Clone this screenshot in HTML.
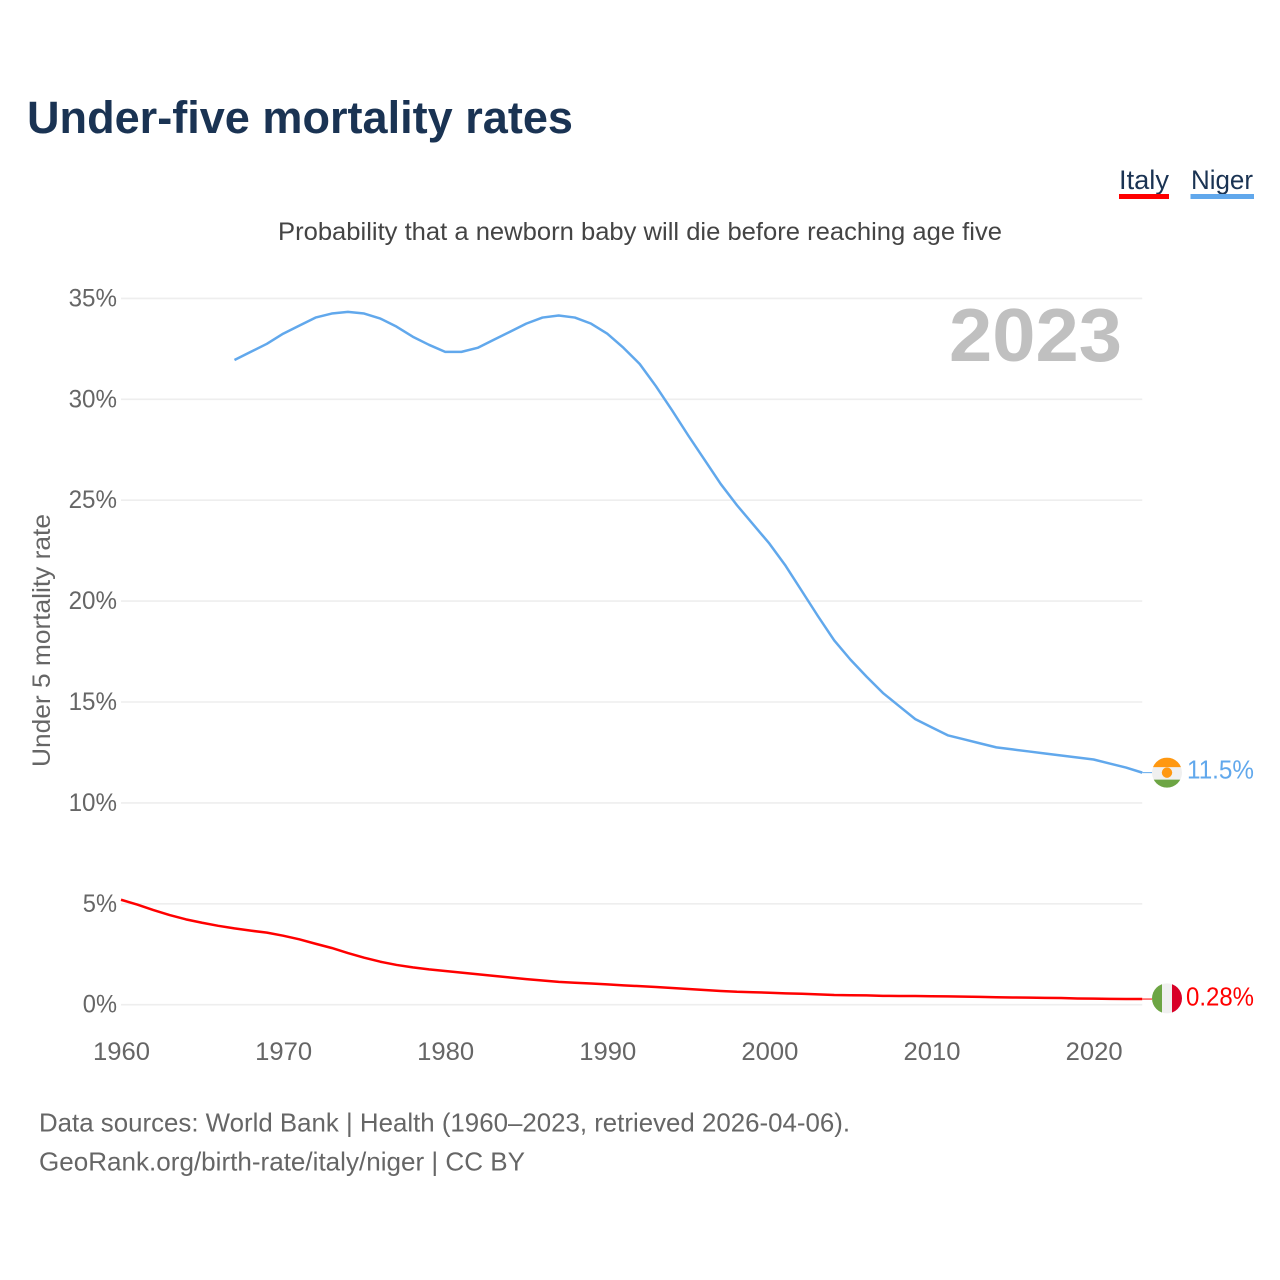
<!DOCTYPE html>
<html lang="en">
<head>
<meta charset="utf-8">
<title>Under-five mortality rates</title>
<style>
html,body{margin:0;padding:0;background:#fff;width:1280px;height:1280px;overflow:hidden}
svg{display:block}
text{font-family:"Liberation Sans",sans-serif}
</style>
</head>
<body>
<svg id="chart" xmlns="http://www.w3.org/2000/svg" width="1280" height="1280" viewBox="0 0 1280 1280">
  <text x="27" y="133" font-size="45" font-weight="700" fill="#1a3353" textLength="546" lengthAdjust="spacingAndGlyphs">Under-five mortality rates</text>
  <g>
    <g>
      <text x="1119" y="189" font-size="27" fill="#1a3353" textLength="50" lengthAdjust="spacingAndGlyphs">Italy</text>
      <rect x="1119" y="194" width="50" height="5" fill="#ff0000"/>
    </g>
    <g>
      <text x="1191" y="189" font-size="27" fill="#1a3353" textLength="62" lengthAdjust="spacingAndGlyphs">Niger</text>
      <rect x="1190.5" y="194" width="63.5" height="5" fill="#61a8ec"/>
    </g>
  </g>
  <text x="278" y="240" font-size="25" fill="#444444" textLength="724" lengthAdjust="spacingAndGlyphs">Probability that a newborn baby will die before reaching age five</text>
  <g id="grid"></g>
  <g id="yticks"></g>
  <g id="xticks"></g>
  <text transform="translate(50,767) rotate(-90)" x="0" y="0" font-size="25" fill="#666666" textLength="253" lengthAdjust="spacingAndGlyphs">Under 5 mortality rate</text>
  <text x="949" y="361" font-size="75" font-weight="700" fill="#c0c0c0" textLength="173" lengthAdjust="spacingAndGlyphs">2023</text>
  <g id="series"></g>
  <g id="ends"></g>
  <text x="39" y="1131.5" font-size="26" fill="#666666" textLength="811" lengthAdjust="spacingAndGlyphs">Data sources: World Bank | Health (1960–2023, retrieved 2026-04-06).</text>
  <text x="39" y="1170.5" font-size="26" fill="#666666" textLength="486" lengthAdjust="spacingAndGlyphs">GeoRank.org/birth-rate/italy/niger | CC BY</text>
</svg>
<script>
const NS = 'http://www.w3.org/2000/svg';
const yTickValues = [0, 5, 10, 15, 20, 25, 30, 35];
const xTickYears = [1960, 1970, 1980, 1990, 2000, 2010, 2020];
const italyStartYear = 1960;
const italyValues = [5.2,4.96,4.69,4.44,4.23,4.06,3.91,3.78,3.67,3.57,3.42,3.24,3.02,2.81,2.56,2.33,2.13,1.97,1.85,1.75,1.67,1.59,1.51,1.43,1.35,1.27,1.2,1.13,1.09,1.05,1.01,0.96,0.92,0.88,0.83,0.78,0.73,0.68,0.64,0.62,0.59,0.56,0.54,0.51,0.48,0.47,0.46,0.44,0.43,0.43,0.42,0.41,0.4,0.39,0.37,0.36,0.35,0.34,0.33,0.31,0.3,0.29,0.28,0.28];
const nigerStartYear = 1967;
const nigerValues = [31.95,32.35,32.75,33.25,33.65,34.05,34.25,34.33,34.25,34.0,33.6,33.1,32.7,32.35,32.35,32.55,32.95,33.35,33.75,34.05,34.15,34.05,33.75,33.25,32.55,31.75,30.65,29.45,28.2,27.0,25.8,24.75,23.8,22.85,21.75,20.5,19.25,18.05,17.1,16.25,15.45,14.8,14.15,13.75,13.35,13.15,12.95,12.75,12.65,12.55,12.45,12.35,12.25,12.15,11.95,11.75,11.5];
const italyLabel = '0.28%';
const nigerLabel = '11.5%';

function xScale(year) { return 121 + (year - 1960) * 16.21; }
function yScale(value) { return 1004.7 - value * 20.18; }
function make(tag, attrs, parent) {
  const el = document.createElementNS(NS, tag);
  for (const k in attrs) el.setAttribute(k, attrs[k]);
  parent.appendChild(el);
  return el;
}
function linePath(start, values) {
  return values.map(function (v, i) {
    return (i ? 'L' : 'M') + xScale(start + i).toFixed(2) + ' ' + yScale(v).toFixed(2);
  }).join(' ');
}

const grid = document.getElementById('grid');
const yticks = document.getElementById('yticks');
const xticks = document.getElementById('xticks');
const series = document.getElementById('series');
const ends = document.getElementById('ends');

yTickValues.forEach(function (v) {
  const gl = make('line', {x1: xScale(1960), x2: xScale(2023), y1: yScale(v), y2: yScale(v), stroke: '#eeeeee', 'stroke-width': 1.6}, grid);
  
  
  const label = v + '%';
  const t = make('text', {x: 117, y: yScale(v) + 8, 'text-anchor': 'end', 'font-size': 25, fill: '#666666', textLength: (label.length - 1) * 14.2 + 20, lengthAdjust: 'spacingAndGlyphs'}, yticks);
  
  
  t.textContent = label;
});

xTickYears.forEach(function (y) {
  const t = make('text', {x: xScale(y) + 0.5, y: 1060, 'text-anchor': 'middle', 'font-size': 25, fill: '#666666', textLength: 57, lengthAdjust: 'spacingAndGlyphs'}, xticks);
  
  
  t.textContent = y;
});

const italyLine = make('path', {d: linePath(italyStartYear, italyValues), fill: 'none', stroke: '#ff0000', 'stroke-width': 2.5, 'stroke-linejoin': 'round'}, series);


const nigerLine = make('path', {d: linePath(nigerStartYear, nigerValues), fill: 'none', stroke: '#61a8ec', 'stroke-width': 2.5, 'stroke-linejoin': 'round'}, series);



const xEnd = xScale(2023);
const flagX = 1167;
const flagR = 15;

/* Niger end marker */
const nigerY = yScale(nigerValues[nigerValues.length - 1]);
const nigerConn = make('line', {x1: xEnd, x2: flagX - flagR, y1: nigerY, y2: nigerY, stroke: '#61a8ec', 'stroke-width': 1}, ends);


const nigerFlag = make('g', {}, ends);


const nigerClip = make('clipPath', {id: 'clip-niger'}, nigerFlag);
make('circle', {cx: flagX, cy: nigerY, r: flagR}, nigerClip);
make('rect', {x: flagX - flagR, y: nigerY - flagR, width: 2 * flagR, height: 30, fill: '#f0f0f0', 'clip-path': 'url(#clip-niger)'}, nigerFlag);
make('rect', {x: flagX - flagR, y: nigerY - flagR, width: 2 * flagR, height: 9.5, fill: '#ff9811', 'clip-path': 'url(#clip-niger)'}, nigerFlag);
make('rect', {x: flagX - flagR, y: nigerY + 7, width: 2 * flagR, height: 9, fill: '#6da544', 'clip-path': 'url(#clip-niger)'}, nigerFlag);
make('circle', {cx: flagX, cy: nigerY, r: 5.2, fill: '#ff9811'}, nigerFlag);
const nigerEnd = make('text', {x: 1187, y: nigerY + 6, 'font-size': 26, fill: '#61a8ec', textLength: 67, lengthAdjust: 'spacingAndGlyphs'}, ends);


nigerEnd.textContent = nigerLabel;

/* Italy end marker */
const italyY = yScale(italyValues[italyValues.length - 1]);
const italyConn = make('line', {x1: xEnd, x2: flagX - flagR, y1: italyY, y2: italyY, stroke: '#ff0000', 'stroke-width': 1}, ends);


const italyFlag = make('g', {}, ends);


const italyClip = make('clipPath', {id: 'clip-italy'}, italyFlag);
make('circle', {cx: flagX, cy: italyY - 0.7, r: flagR}, italyClip);
make('rect', {x: flagX - flagR, y: italyY - 16, width: 10, height: 31, fill: '#6da544', 'clip-path': 'url(#clip-italy)'}, italyFlag);
make('rect', {x: flagX - 5, y: italyY - 16, width: 10, height: 31, fill: '#f0f0f0', 'clip-path': 'url(#clip-italy)'}, italyFlag);
make('rect', {x: flagX + 5, y: italyY - 16, width: 10, height: 31, fill: '#d80027', 'clip-path': 'url(#clip-italy)'}, italyFlag);
const italyEnd = make('text', {x: 1186, y: italyY + 6.5, 'font-size': 26, fill: '#ff0000', textLength: 68, lengthAdjust: 'spacingAndGlyphs'}, ends);


italyEnd.textContent = italyLabel;
</script>
</body>
</html>
